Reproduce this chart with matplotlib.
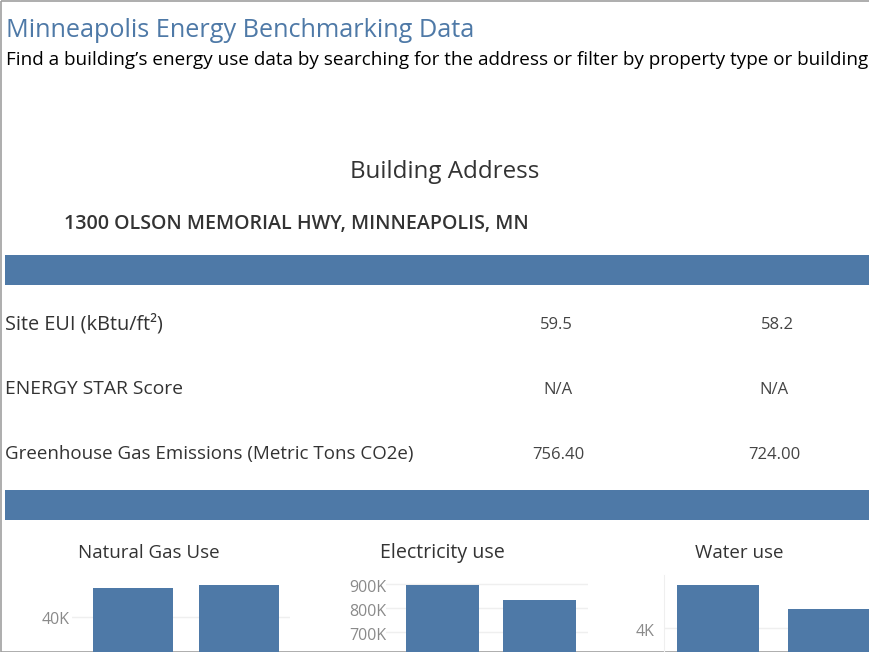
import matplotlib
matplotlib.use("Agg")
import matplotlib.pyplot as plt
from matplotlib.patches import Rectangle
from matplotlib.transforms import ScaledTranslation

W, H = 870, 652
BLUE = "#4e79a7"
FONT = "Open Sans"

title_text = "Minneapolis Energy Benchmarking Data"
subtitle_text = "Find a building\u2019s energy use data by searching for the address or filter by property type or building"
address_heading = "Building Address"
address_text = "1300 OLSON MEMORIAL HWY, MINNEAPOLIS, MN"

row_labels = ["Site EUI (kBtu/ft\u00b2)", "ENERGY STAR Score", "Greenhouse Gas Emissions (Metric Tons CO2e)"]
col1_values = ["59.5", "N/A", "756.40"]
col2_values = ["58.2", "N/A", "724.00"]

gas_values = [46300, 47000]
gas_ticks = [40000]
gas_labels = ["40K"]
electricity_values = [896000, 834000]
electricity_ticks = [700000, 800000, 900000]
electricity_labels = ["700K", "800K", "900K"]
water_values = [4990, 4440]
water_ticks = [4000]
water_labels = ["4K"]

fig = plt.figure(figsize=(W / 100, H / 100), dpi=100, facecolor="white")
bg = fig.add_axes([0, 0, 1, 1])
bg.set_xlim(0, W)
bg.set_ylim(H, 0)
bg.axis("off")

# border and bands
bg.add_patch(Rectangle((0.5, 0.5), W + 5, H - 1, fill=False, ec="#a0a0a0", lw=1.2))
for y0 in (255, 490):
    bg.add_patch(Rectangle((5, y0), W, 30, fc=BLUE, ec="none"))

def put(x, y, s, size, color="#333333", ha="left", weight="normal"):
    bg.text(x, y, s, fontsize=size, color=color, ha=ha, va="center",
            family=FONT, weight=weight, clip_on=False)

put(6, 30.5, title_text, 18.15, color=BLUE)
put(6, 60, subtitle_text, 13.55, color="#000000", weight="medium")
put(445, 172, address_heading, 17.4, ha="center")
put(64, 224, address_text, 14.1, weight="semibold")

row_y = [324, 389, 454]
row_sizes = [14.3, 13.9, 13.5]
col1_x = [556, 558, 558]
col2_x = [777, 774, 774]
for i, (y, lab, a, b) in enumerate(zip(row_y, row_labels, col1_values, col2_values)):
    put(5, y, lab, row_sizes[i])
    put(col1_x[i], y + 1, a, 12, color="#444444", ha="center")
    put(col2_x[i], y + 1, b, 12, color="#444444", ha="center")

TOP, BOTTOM = 575, H
BASE = 800  # pixel row of the (off-canvas) zero line

def bars(left, right, c0, step, width, values, ticks, labels, px_per_unit, title, title_x, title_size, pad, spine=False):
    ax = fig.add_axes([left / W, 1 - BOTTOM / H, (right - left) / W, (BOTTOM - TOP) / H])
    ax.patch.set_alpha(0)
    ax.bar([0, 1], values, width=width / step, color=BLUE, zorder=3)
    ax.set_xlim((left - c0) / step, (right - c0) / step)
    ax.set_ylim((BASE - BOTTOM) / px_per_unit, (BASE - TOP) / px_per_unit)
    ax.set_yticks(ticks, labels)
    ax.set_xticks([])
    ax.tick_params(axis="y", length=0, pad=pad, labelsize=11.5, labelcolor="#8a8a8a")
    shift = ScaledTranslation(0, -1.5 / 100, fig.dpi_scale_trans)
    for t in ax.get_yticklabels():
        t.set_family(FONT)
        t.set_transform(t.get_transform() + shift)
    ax.grid(axis="y", color="#efefef", lw=1, zorder=0)
    for s in ax.spines.values():
        s.set_visible(False)
    if spine:
        ax.spines["left"].set_visible(True)
        ax.spines["left"].set_color("#efefef")
    put(title_x, 553, title, title_size, ha="center", weight="medium")

bars(72, 290, 133, 106, 80, gas_values, gas_ticks, gas_labels, 183 / 40000, "Natural Gas Use", 148.5, 13.5, 1.5)
bars(386, 588, 442.5, 97, 73, electricity_values, electricity_ticks, electricity_labels, 216 / 900000, "Electricity use", 442.5, 14.1, 0)
bars(664, 870, 718, 111, 82, water_values, water_ticks, water_labels, 172 / 4000, "Water use", 739, 13.5, 6.5, spine=True)

fig.savefig("out.png", dpi=100)
